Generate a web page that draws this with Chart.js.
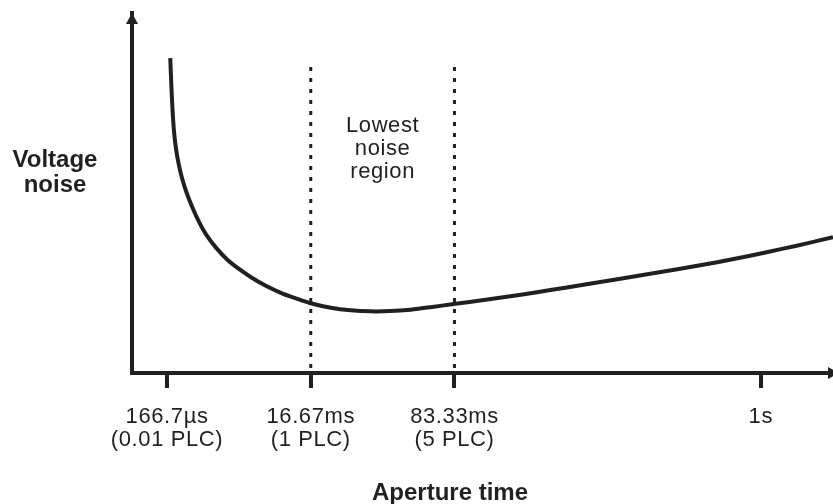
<!DOCTYPE html>
<html>
<head>
<meta charset="utf-8">
<script src="https://cdn.jsdelivr.net/npm/chart.js@4.4.1/dist/chart.umd.min.js"></script>
<style>
html,body{margin:0;padding:0;background:#fff;}
#wrap{width:833px;height:504px;}
</style>
</head>
<body>
<div id="wrap"><canvas id="noise"></canvas></div>
<script>
// schematic units: x 0..100 across the axis, y 0..100 up the axis
var tickPos = [5, 25.5, 46, 89.7];
var tickLabels = [['166.7µs', '(0.01 PLC)'], ['16.67ms', '(1 PLC)'], ['83.33ms', '(5 PLC)'], ['1s']];
var curveX = [5.46, 5.60, 5.77, 5.98, 6.27, 6.67, 7.19, 7.83, 8.62, 9.54, 10.68, 12.04, 13.60, 15.31, 17.09, 19.09, 21.23, 23.36, 25.5, 28.35, 31.2, 34.05, 36.89, 39.74, 42.59, 45.87, 50.43, 54.99, 59.69, 64.39, 69.23, 73.93, 78.63, 83.48, 88.18, 92.88, 96.44, 100];
var curveY = [87.47, 80.5, 73.54, 67.41, 62.4, 57.94, 53.76, 49.86, 45.96, 42.06, 38.16, 34.68, 31.48, 28.83, 26.46, 24.23, 22.28, 20.75, 19.36, 18.11, 17.41, 17.13, 17.21, 17.6, 18.27, 19.16, 20.33, 21.59, 23.04, 24.51, 26.04, 27.58, 29.11, 30.78, 32.59, 34.54, 36.07, 37.74];
var regionEdges = [25.5, 46];
var regionTop = 85;
var regionText = ['Lowest', 'noise', 'region'];
var yTitle = ['Voltage', 'noise'];
var xTitle = 'Aperture time';

var ink = '#231f20';
var fam = '"Liberation Sans", Arial, sans-serif';

var extras = {
  id: 'extras',
  beforeDraw: function(chart){ chart.ctx.letterSpacing = '0.6px'; },
  afterDraw: function(chart){
    var ctx = chart.ctx, ca = chart.chartArea, xs = chart.scales.x;
    ctx.save();
    ctx.letterSpacing = '0px';
    ctx.fillStyle = ink;
    // arrow heads
    ctx.beginPath();
    ctx.moveTo(ca.left, ca.top);
    ctx.lineTo(ca.left - 6, ca.top + 11);
    ctx.lineTo(ca.left + 6, ca.top + 11);
    ctx.closePath();
    ctx.fill();
    ctx.beginPath();
    ctx.moveTo(ca.right + 6, ca.bottom);
    ctx.lineTo(ca.right - 5, ca.bottom - 6);
    ctx.lineTo(ca.right - 5, ca.bottom + 6);
    ctx.closePath();
    ctx.fill();
    // region label
    ctx.font = '22px ' + fam;
    ctx.letterSpacing = '0.6px';
    ctx.textAlign = 'center';
    ctx.textBaseline = 'alphabetic';
    var cx = (xs.getPixelForValue(regionEdges[0]) + xs.getPixelForValue(regionEdges[1])) / 2;
    regionText.forEach(function(t, i){ ctx.fillText(t, cx, ca.top + 119 + i * 23); });
    // axis titles
    ctx.font = 'bold 24px ' + fam;
    ctx.letterSpacing = '0px';
    yTitle.forEach(function(t, i){ ctx.fillText(t, 55, 167 + i * 25); });
    ctx.fillText(xTitle, 450, 500);
    ctx.restore();
  }
};

new Chart(document.getElementById('noise'), {
  type: 'line',
  data: {
    datasets: [{
      data: curveX.map(function(x, i){ return {x: x, y: curveY[i]}; }),
      borderColor: ink,
      borderWidth: 4,
      borderCapStyle: 'butt',
      tension: 0.3,
      pointRadius: 0,
      fill: false
    }].concat(regionEdges.map(function(e){
      return {
        data: [{x: e, y: regionTop}, {x: e, y: 0}],
        borderColor: ink,
        borderWidth: 3,
        borderDash: [4, 7],
        borderCapStyle: 'butt',
        pointRadius: 0,
        fill: false
      };
    }))
  },
  options: {
    responsive: true,
    maintainAspectRatio: false,
    animation: false,
    layout: {padding: {left: 124, right: 0, top: 13, bottom: 36}},
    plugins: {legend: {display: false}, tooltip: {enabled: false}},
    scales: {
      x: {
        type: 'linear', min: 0, max: 100,
        afterBuildTicks: function(s){ s.ticks = tickPos.map(function(v){ return {value: v}; }); },
        grid: {display: true, drawOnChartArea: false, drawTicks: true, tickLength: 15, lineWidth: 4, color: ink},
        border: {display: true, width: 4, color: ink},
        ticks: {
          callback: function(v, i){ return tickLabels[i]; },
          padding: 17, maxRotation: 0, autoSkip: false,
          color: ink, font: {family: fam, size: 22, lineHeight: '23px'}
        }
      },
      y: {
        type: 'linear', min: 0, max: 100,
        grid: {display: false},
        border: {display: true, width: 4, color: ink},
        ticks: {display: false}
      }
    }
  },
  plugins: [extras]
});
</script>
</body>
</html>
